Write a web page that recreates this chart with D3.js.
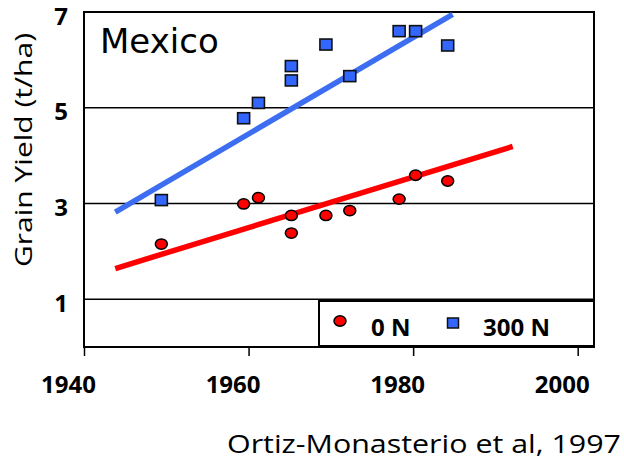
<!DOCTYPE html>
<html>
<head>
<meta charset="utf-8">
<script src="https://cdn.jsdelivr.net/npm/d3@7"></script>
<style>
  html, body { margin: 0; padding: 0; background: #fff; }
  svg { display: block; }
</style>
</head>
<body>
<svg id="chart" width="624" height="460"></svg>
<script>
// ---- Data ----
const years      = [1949.4, 1959.4, 1961.2, 1965.2, 1965.2, 1969.4, 1972.3, 1978.3, 1980.3, 1984.2];
const yield0N    = [2.15, 2.99, 3.12, 2.75, 2.38, 2.75, 2.85, 3.09, 3.59, 3.47];
const yield300N  = [3.07, 4.78, 5.10, 5.87, 5.57, 6.32, 5.66, 6.60, 6.60, 6.30];
const trendYears0N   = [1943.8, 1992.1];
const trendYield0N   = [1.64, 4.19];
const trendYears300N = [1943.8, 1984.8];
const trendYield300N = [2.82, 6.95];
const seriesNames = ["0 N", "300 N"];
const xTicks = [1940, 1960, 1980, 2000];
const yTicks = [1, 3, 5, 7];
const yLabel = "Grain Yield (t/ha)";
const panelTitle = "Mexico";
const citation = "Ortiz-Monasterio et al, 1997";

(function () {
const RED = "#ff0000", BLUE = "#3366ff", BLUE_LINE = "#3d6ef2";

const svg = d3.select("#chart");
const pLeft = 84, pRight = 594, pTop = 12, pBottom = 347;

const x = d3.scaleLinear().domain([1940, 2000]).range([pLeft, 577.7]);
const y = d3.scaleLinear().domain([0, 7]).range([pBottom, pTop]);
const xMax = x.invert(pRight);

// gridlines
svg.append("g").selectAll("line").data(yTicks.filter(d => d < 7)).join("line")
  .attr("x1", pLeft).attr("x2", pRight)
  .attr("y1", d => y(d)).attr("y2", d => y(d))
  .attr("stroke", "#000").attr("stroke-width", 1.5);

// frame
svg.append("rect")
  .attr("x", x(1940)).attr("y", y(7))
  .attr("width", x(xMax) - x(1940)).attr("height", y(0) - y(7))
  .attr("fill", "none").attr("stroke", "#000").attr("stroke-width", 2);

// x axis
const xAxis = d3.axisBottom(x).tickValues(xTicks).tickSize(9).tickFormat(d3.format("d"));
const gx = svg.append("g").attr("transform", `translate(0,${pBottom})`).call(xAxis);
gx.select(".domain").remove();
gx.selectAll(".tick line").attr("stroke", "#000").attr("stroke-width", 1.5);
gx.selectAll(".tick text")
  .attr("dx", -16).attr("y", 46).attr("dy", 0)
  .attr("fill", "#000")
  .style("font-family", "'Open Sans', sans-serif")
  .style("font-weight", 700).style("font-size", "24px");

// y axis labels
const yAxis = d3.axisLeft(y).tickValues(yTicks).tickSize(0).tickFormat(d3.format("d"));
const gy = svg.append("g").attr("transform", `translate(${pLeft},0)`).call(yAxis);
gy.select(".domain").remove();
gy.selectAll(".tick text")
  .attr("x", -16).attr("dy", 0).attr("y", 12)
  .attr("fill", "#000")
  .style("font-family", "'Open Sans', sans-serif")
  .style("font-weight", 700).style("font-size", "24px");

// trend lines
const line = d3.line().x(d => x(d[0])).y(d => y(d[1]));
svg.append("path")
  .datum(trendYears300N.map((t, i) => [t, trendYield300N[i]]))
  .attr("d", line).attr("fill", "none")
  .attr("stroke", BLUE_LINE).attr("stroke-width", 5.5);
svg.append("path")
  .datum(trendYears0N.map((t, i) => [t, trendYield0N[i]]))
  .attr("d", line).attr("fill", "none")
  .attr("stroke", RED).attr("stroke-width", 5.5);

// markers
svg.append("g").selectAll("ellipse").data(years.map((t, i) => [t, yield0N[i]])).join("ellipse")
  .attr("cx", d => x(d[0])).attr("cy", d => y(d[1]))
  .attr("rx", 6).attr("ry", 5.2)
  .attr("fill", RED).attr("stroke", "#000").attr("stroke-width", 1.5);
svg.append("g").selectAll("rect").data(years.map((t, i) => [t, yield300N[i]])).join("rect")
  .attr("x", d => x(d[0]) - 6).attr("y", d => y(d[1]) - 5.5)
  .attr("width", 12).attr("height", 11)
  .attr("fill", BLUE).attr("stroke", "#111").attr("stroke-width", 1.6);

// panel title
svg.append("text")
  .attr("x", 100).attr("y", 53)
  .style("font-family", "'DejaVu Sans', sans-serif")
  .style("font-size", "34px").attr("fill", "#000")
  .text(panelTitle);

// y label
svg.append("text")
  .attr("transform", "translate(32,150) rotate(-90)")
  .attr("text-anchor", "middle")
  .attr("textLength", 234).attr("lengthAdjust", "spacingAndGlyphs")
  .style("font-family", "'Open Sans', sans-serif")
  .style("font-size", "24px").attr("fill", "#000")
  .text(yLabel);

// legend
const lg = svg.append("g");
lg.append("rect")
  .attr("x", 319).attr("y", 301).attr("width", pRight - 319).attr("height", pBottom - 1 - 301)
  .attr("fill", "#fff").attr("stroke", "#000").attr("stroke-width", 2);
const legendItems = [
  { name: seriesNames[0], mx: 340, tx: 371, shape: "circle" },
  { name: seriesNames[1], mx: 453, tx: 483, shape: "square" }
];
legendItems.forEach(it => {
  if (it.shape === "circle") {
    lg.append("ellipse").attr("cx", it.mx).attr("cy", 321).attr("rx", 6).attr("ry", 5.2)
      .attr("fill", RED).attr("stroke", "#000").attr("stroke-width", 1.5);
  } else {
    lg.append("rect").attr("x", it.mx - 5.5).attr("y", 318).attr("width", 11).attr("height", 10)
      .attr("fill", BLUE).attr("stroke", "#111").attr("stroke-width", 1.5);
  }
  lg.append("text").attr("x", it.tx).attr("y", 336)
    .style("font-family", "'Open Sans', sans-serif")
    .style("font-weight", 700).style("font-size", "24px").attr("fill", "#000")
    .text(it.name);
});

// citation
svg.append("text")
  .attr("x", 621).attr("y", 453).attr("text-anchor", "end")
  .attr("textLength", 394).attr("lengthAdjust", "spacingAndGlyphs")
  .style("font-family", "'Open Sans', sans-serif")
  .style("font-size", "26px").attr("fill", "#000")
  .text(citation);
})();
</script>
</body>
</html>
